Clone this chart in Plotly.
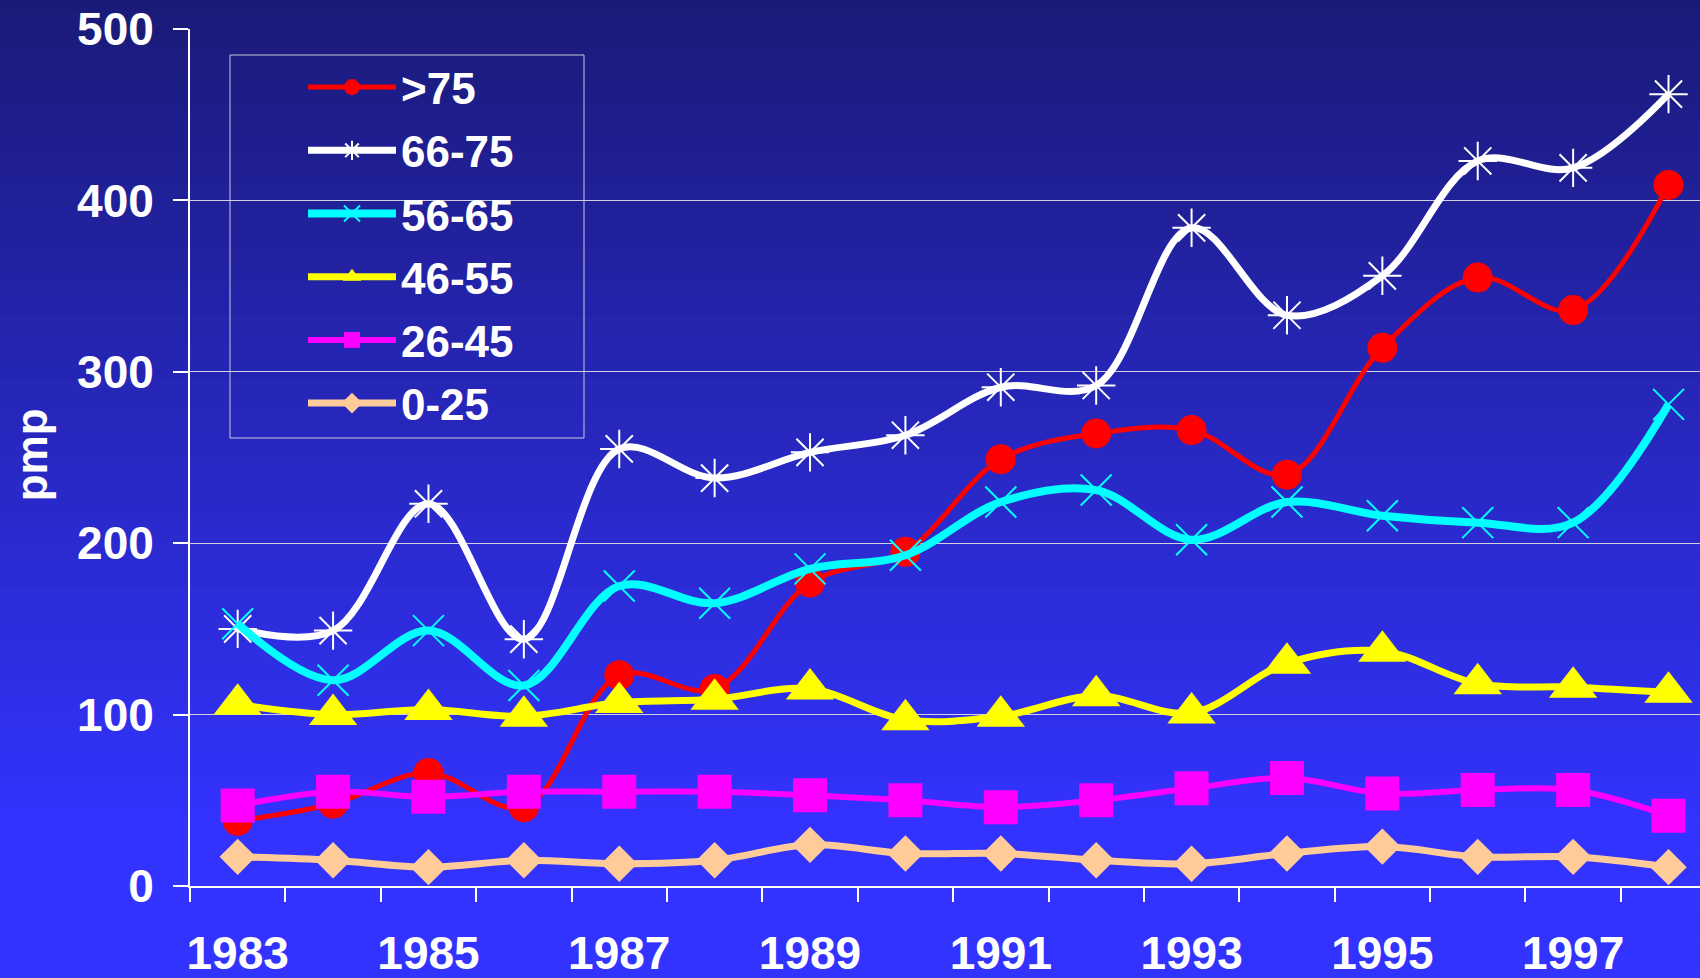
import plotly.graph_objects as go

years = [str(y) for y in range(1983, 1999)]
tick_text = [y if int(y) % 2 == 1 else "" for y in years]

s_over75 = [38, 48, 66, 46, 123, 115, 177, 195, 249, 264, 266, 240, 314, 355, 336, 409]
s_66_75 = [150, 149, 223, 144, 255, 238, 253, 263, 291, 292, 384, 333, 356, 423, 419, 462]
s_56_65 = [153, 120, 149, 117, 175, 165, 185, 193, 224, 231, 202, 224, 216, 212, 212, 281]
s_46_55 = [106, 100, 103, 99, 107, 109, 115, 97, 99, 111, 101, 130, 137, 118, 116, 113]
s_26_45 = [47, 55, 52, 55, 55, 55, 53, 50, 46, 50, 57, 63, 54, 56, 56, 41]
s_0_25 = [17, 15, 11, 15, 13, 15, 24, 19, 19, 15, 13, 19, 23, 17, 17, 11]

series = [
    (">75", s_over75, "#FF0000", 5, "circle", 30, 0),
    ("66-75", s_66_75, "#FFFFFF", 7, "asterisk-open", 32, 2),
    ("56-65", s_56_65, "#00FFFF", 8, "x-thin-open", 31, 2),
    ("46-55", s_46_55, "#FFFF00", 7, "triangle-up", 42, 0),
    ("26-45", s_26_45, "#FF00FF", 6, "square", 34, 0),
    ("0-25", s_0_25, "#FFCC99", 7, "diamond", 28, 0),
]

W, H = 1700, 978
L, R, T, B = 190, 0, 29, 92
PW, PH = W - L - R, H - T - B


def px_x(p):
    return (p - L) / PW


def px_y(p):
    return (H - B - p) / PH


fig = go.Figure()
for i, (name, vals, col, lw, sym, ms, mlw) in enumerate(series):
    fig.add_trace(go.Scatter(
        x=years, y=vals, name=name, mode="lines+markers",
        line=dict(color=col, width=lw, shape="spline", smoothing=1.0),
        marker=dict(symbol=sym, size=ms, color=col,
                    line=dict(color=col, width=mlw)),
        cliponaxis=False, legendgroup=f"g{i}",
    ))

# background gradient
shapes = []
N = 90
top = (26, 26, 120)
bot = (51, 51, 255)
for k in range(N):
    p0 = H * k / N
    p1 = H * (k + 1) / N + 1
    t = min(1.0, ((p0 + p1) / 2) / (H * 0.85))
    c = tuple(int(round(top[j] + (bot[j] - top[j]) * t)) for j in range(3))
    shapes.append(dict(
        type="rect", xref="paper", yref="paper", layer="below",
        x0=px_x(0) - 0.01, x1=1.01,
        y0=px_y(p1), y1=px_y(p0),
        line=dict(width=0), fillcolor=f"rgb{c}",
    ))

# legend frame
shapes.append(dict(
    type="rect", xref="paper", yref="paper", layer="above",
    x0=px_x(230), x1=px_x(584), y0=px_y(438), y1=px_y(55),
    line=dict(color="#C8C8D8", width=1), fillcolor="rgba(0,0,0,0)",
))

font_family = "Arial, Liberation Sans, sans-serif"

fig.update_layout(
    width=W, height=H,
    margin=dict(l=L, r=R, t=T, b=B, autoexpand=False),
    paper_bgcolor="#3333FF", plot_bgcolor="rgba(0,0,0,0)",
    shapes=shapes,
    font=dict(family=font_family, color="white"),
    showlegend=True,
    legend=dict(
        x=px_x(303), y=px_y(52), xanchor="left", yanchor="top",
        bgcolor="rgba(0,0,0,0)", borderwidth=0,
        font=dict(family=font_family, size=44, color="white", weight="bold"),
        itemwidth=88, tracegroupgap=3, itemsizing="trace",
    ),
    annotations=[dict(
        text="<b>pmp</b>", xref="paper", yref="paper",
        x=px_x(31), y=px_y(420 * 1700 / 1568), xanchor="center", yanchor="middle",
        textangle=-90, showarrow=False,
        font=dict(family=font_family, size=44, color="white"),
    )],
)

fig.update_xaxes(
    type="category", range=[-0.5, 15.33],
    tickmode="array", tickvals=years, ticktext=tick_text, tickangle=0,
    tickson="boundaries", ticks="outside", ticklen=14, tickwidth=1.5, tickcolor="white",
    showline=True, linecolor="white", linewidth=2,
    showgrid=False, zeroline=False,
    tickfont=dict(family=font_family, size=46, color="white", weight="bold"),
    ticklabelstandoff=26,
)
fig.update_yaxes(
    range=[0, 500], tickvals=[0, 100, 200, 300, 400, 500],
    ticks="outside", ticklen=15, tickwidth=1.5, tickcolor="white",
    showline=True, linecolor="white", linewidth=2,
    showgrid=True, gridcolor="#D0D0E0", gridwidth=1, zeroline=False,
    tickfont=dict(family=font_family, size=46, color="white", weight="bold"),
    ticklabelstandoff=10,
)

fig.write_html(
    "out.html",
    config={"displayModeBar": False},
    post_script="document.body.style.margin='0px';document.body.style.background='#3333FF';",
)
